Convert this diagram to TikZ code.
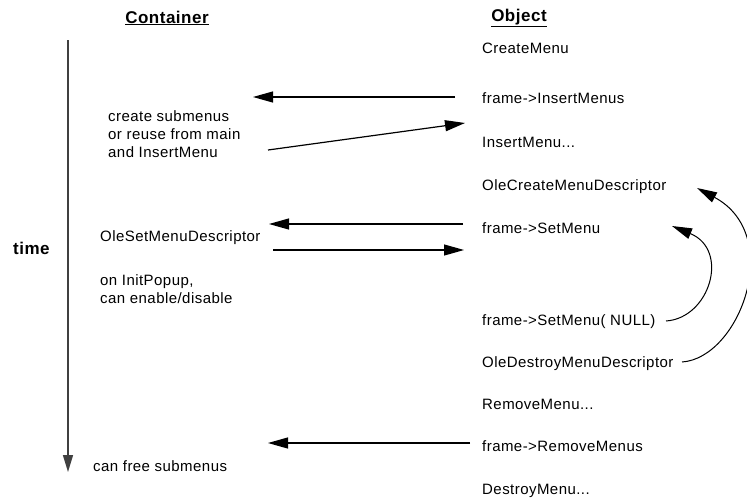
\documentclass[tikz,border=0pt]{standalone}
\usepackage{fontspec}
\setmainfont[LetterSpace=3]{Liberation Sans}
\usetikzlibrary{arrows.meta}

\begin{document}
\begin{tikzpicture}[
  x=1pt, y=1pt,
  lbl/.style={anchor=west, inner sep=0pt, text height=11pt, text depth=3pt, font=\fontsize{15}{18}\selectfont},
  blk/.style={anchor=north west, inner sep=0pt, align=left, font=\fontsize{15}{18}\selectfont},
  hdr/.style={inner sep=0pt, font=\fontsize{17}{20}\selectfont\bfseries},
  msg/.style={-{Triangle[length=20pt, width=11pt]}, line width=1.2pt},
  timeline/.style={-{Triangle[length=17pt, width=10pt]}, line width=1.4pt, black!75},
]
\useasboundingbox (0,0) rectangle (747,-498);

\node[hdr] (cont) at (167,-18) {\underline{Container}};
\node[hdr] (obj)  at (519,-18) {\underline{Object}};

% time axis
\coordinate (t0) at (68,-40);
\coordinate (t1) at (68,-472);
\draw[timeline] (t0) -- (t1);
\node[hdr, anchor=west] (time) at (13,-248) {time};

% object side
\node[lbl] (crmenu)   at (482,-49)  {CreateMenu};
\node[lbl] (insmenus) at (482,-99)  {frame->InsertMenus};
\node[lbl] (insmenu)  at (482,-143) {InsertMenu...};
\node[lbl] (olecreate) at (482,-186) {OleCreateMenuDescriptor};
\node[lbl] (setmenu)  at (482,-229) {frame->SetMenu};
\node[lbl] (setnull)  at (482,-321) {frame->SetMenu( NULL)};
\node[lbl] (oledestroy) at (482,-363) {OleDestroyMenuDescriptor};
\node[lbl] (rmmenu)   at (482,-405) {RemoveMenu...};
\node[lbl] (rmmenus)  at (482,-447) {frame->RemoveMenus};
\node[lbl] (dsmenu)   at (482,-490) {DestroyMenu...};

% container side
\node[blk] (submenus) at (108,-110) {create submenus\\or reuse from main\\and InsertMenu};
\node[lbl] (olesetdesc) at (100,-237) {OleSetMenuDescriptor};
\node[blk] (initpopup) at (100,-274) {on InitPopup,\\can enable/disable};
\node[lbl] (freesub) at (93,-467) {can free submenus};

% messages
\coordinate (m1a) at (455,-97);  \coordinate (m1b) at (253,-97);
\coordinate (m2a) at (268,-150); \coordinate (m2b) at (465,-123);
\coordinate (m3a) at (463,-224); \coordinate (m3b) at (269,-224);
\coordinate (m4a) at (273,-250); \coordinate (m4b) at (464,-250);
\coordinate (m5a) at (470,-443); \coordinate (m5b) at (268,-443);
\draw[msg] (m1a) -- (m1b);
\draw[msg] (m2a) -- (m2b);
\draw[msg] (m3a) -- (m3b);
\draw[msg] (m4a) -- (m4b);
\draw[msg] (m5a) -- (m5b);

% back to earlier steps
\coordinate (r1a) at (666,-321); \coordinate (r1b) at (672,-226);
\coordinate (r2a) at (682,-362); \coordinate (r2b) at (697,-188);
\draw[msg, line width=1pt] (r1a) .. controls (710,-318) and (730,-250) .. (r1b);
\draw[msg, line width=1pt] (r2a) .. controls (740,-358) and (785,-235) .. (r2b);

\end{tikzpicture}
\end{document}
